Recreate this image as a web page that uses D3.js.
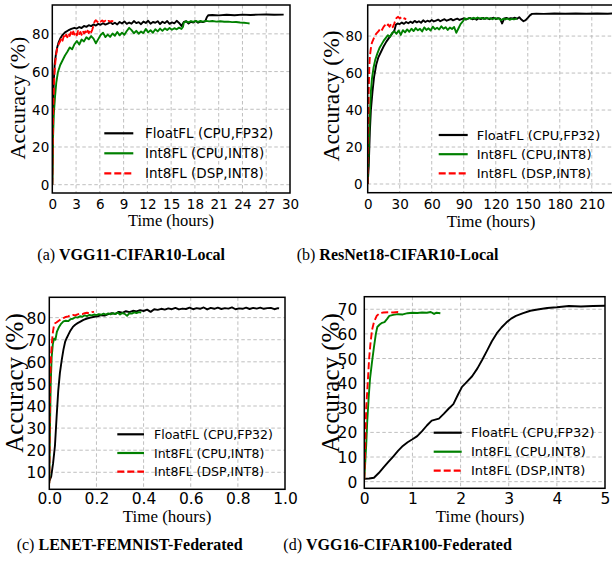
<!DOCTYPE html>
<html><head><meta charset="utf-8">
<script src="https://cdn.jsdelivr.net/npm/d3@7"></script>
<style>body{margin:0;background:#fff}</style>
</head><body>
<svg id="c" width="612" height="564" xmlns="http://www.w3.org/2000/svg"></svg>
<script>
// ---------------- DATA ----------------
const seriesNames = ["FloatFL (CPU,FP32)", "Int8FL (CPU,INT8)", "Int8FL (DSP,INT8)"];
const captionTags = ["(a)", "(b)", "(c)", "(d)"];
const captionNames = ["VGG11-CIFAR10-Local", "ResNet18-CIFAR10-Local", "LENET-FEMNIST-Federated", "VGG16-CIFAR100-Federated"];
const xLabel = "Time (hours)";
const yLabel = "Accuracy (%)";

// (a) VGG11-CIFAR10-Local  [hours, accuracy]
const aFloat = [[0,0],[0.05,20],[0.1,42],[0.2,56],[0.3,64],[0.45,69],[0.6,72.5],[0.8,75.5],[1.0,77.5],[1.3,79.5],[1.6,80.8],[2.0,81.8],[2.4,82.6],[2.8,83.2],[3.1,82.8],[3.4,83.6],[3.7,83.1],[4.0,84.2],[4.3,83.7],[4.6,84.6],[4.9,84.1],[5.2,85.0],[5.5,84.4],[5.8,85.3],[6.1,84.8],[6.4,85.6],[6.7,84.9],[7.0,85.4],[7.3,86.1],[7.6,85.2],[7.9,85.9],[8.2,85.0],[8.5,86.3],[8.8,85.5],[9.1,86.6],[9.4,85.3],[9.7,86.0],[10.0,85.4],[10.3,86.8],[10.6,85.7],[10.9,86.2],[11.2,85.1],[11.5,86.5],[11.8,85.8],[12.1,86.9],[12.4,85.4],[12.7,86.3],[13.0,85.9],[13.3,86.7],[13.6,85.2],[13.9,86.4],[14.2,85.7],[14.5,86.8],[14.8,85.3],[15.1,86.1],[15.4,85.6],[15.7,86.9],[16.0,85.8],[16.3,84.2],[16.6,86.3],[16.9,86.7],[17.2,85.5],[17.5,86.4],[17.8,86.0],[18.1,86.8],[18.4,85.9],[18.7,86.5],[19.0,86.2],[19.3,86.6],[19.5,88.8],[19.7,89.9],[20.2,90.0],[21,89.8],[22,90.1],[23,89.9],[24,90.2],[25,90.0],[26,90.2],[27,90.3],[28,90.1],[29.2,90.2]];
const aIntCPU = [[0,0],[0.05,12],[0.1,26],[0.2,38],[0.35,47],[0.5,54],[0.7,59.5],[1.0,63.5],[1.3,66],[1.6,68.5],[1.9,70.5],[2.2,72.8],[2.5,71.8],[2.8,74.5],[3.1,76.2],[3.4,74.3],[3.7,77.0],[4.0,76.0],[4.3,78.2],[4.6,77.1],[4.9,78.8],[5.2,77.5],[5.5,75.0],[5.8,77.2],[6.1,79.4],[6.4,80.6],[6.7,78.3],[7.0,79.6],[7.3,78.4],[7.6,80.2],[7.9,79.0],[8.2,81.0],[8.5,79.2],[8.8,80.6],[9.1,79.5],[9.4,81.5],[9.7,83.2],[10.0,82.0],[10.3,80.3],[10.6,81.6],[10.9,80.1],[11.2,81.2],[11.5,80.4],[11.8,82.6],[12.1,80.8],[12.4,81.9],[12.7,80.6],[13.0,82.4],[13.3,81.3],[13.6,82.8],[13.9,81.6],[14.2,82.9],[14.5,82.0],[14.8,83.1],[15.1,82.2],[15.4,83.0],[15.7,82.4],[16.0,83.3],[16.3,82.6],[16.5,83.8],[16.6,86.0],[16.9,86.6],[17.2,86.1],[17.5,86.8],[17.8,86.3],[18.1,86.9],[18.4,86.4],[18.7,86.8],[19.0,86.5],[19.4,86.9],[19.8,86.6],[20.2,86.8],[20.7,86.5],[21.2,86.7],[21.7,86.4],[22.2,86.5],[22.7,86.2],[23.2,86.3],[23.7,86.0],[24.2,85.9],[24.6,85.7],[24.9,85.5]];
const aIntDSP = [[0,0],[0.05,18],[0.1,36],[0.2,52],[0.3,61],[0.45,68],[0.6,72],[0.8,74.5],[1.0,76.2],[1.15,77.8],[1.3,76.4],[1.45,78.9],[1.6,77.6],[1.75,79.6],[1.9,78.2],[2.05,80.4],[2.2,78.9],[2.35,80.9],[2.5,79.3],[2.65,81.2],[2.8,79.6],[2.95,80.8],[3.1,79.2],[3.25,81.5],[3.4,79.9],[3.55,81.0],[3.7,79.5],[3.85,81.6],[4.0,80.2],[4.15,81.3],[4.3,79.8],[4.45,81.7],[4.6,80.4],[4.75,82.0],[4.9,80.8],[5.05,82.3],[5.2,84.5],[5.35,86.6],[5.5,87.2],[5.7,86.3],[5.9,87.3],[6.1,86.5],[6.3,87.1],[6.5,86.4],[6.7,87.0],[6.9,86.3],[7.1,86.9],[7.3,86.5],[7.5,86.8],[7.7,86.6]];

// (b) ResNet18-CIFAR10-Local
const bFloat = [[0,0],[1,10],[2,28],[3,40],[4.5,50],[6,58],[8,64.5],[10,68.5],[12.5,71.5],[15,74.5],[17.5,77],[20,79],[22.5,81],[25,83],[26.5,86.2],[28,86.8],[30,86.5],[32,87.3],[34,86.6],[36,87.6],[38,86.9],[40,87.8],[42,87.1],[44,88.2],[46,87.4],[48,88.0],[50,87.2],[52,88.5],[54,87.6],[56,88.3],[58,87.8],[60,88.7],[62,87.9],[64,88.4],[66,88.9],[68,88.0],[70,88.6],[72,89.1],[74,88.3],[76,88.8],[78,89.3],[80,88.5],[82,89.0],[84,89.4],[86,88.7],[88,89.2],[90,89.6],[92,88.9],[94,89.4],[96,89.8],[98,89.1],[100,89.5],[102,88.8],[104,89.6],[106,89.2],[108,89.8],[110,89.3],[112,89.7],[114,89.1],[116,89.6],[118,89.9],[120,89.2],[122,89.7],[124,89.4],[126,86.8],[128,89.5],[130,89.8],[132,89.3],[134,89.7],[136,89.5],[138,89.9],[140,89.4],[142,90.2],[144,88.9],[146,88.0],[148,88.6],[150,89.8],[152,91.2],[154,92.0],[158,92.1],[165,92.0],[175,92.2],[185,92.1],[195,92.2],[205,92.1],[215,92.2],[225,92.1],[231,92.2]];
const bIntCPU = [[0,0],[1,20],[2,38],[3,50],[4,57],[5.5,63],[7,67],[9,70.5],[11,73.5],[13,75.5],[15,77.5],[17,79],[19,80.5],[21,79.6],[23,81.8],[25,82.5],[27,81.2],[29,83.0],[31,80.6],[33,83.2],[35,82.0],[37,83.6],[39,82.3],[41,84.0],[43,82.7],[45,84.3],[47,83.1],[49,83.9],[51,82.5],[53,84.7],[55,83.3],[57,84.2],[59,83.0],[61,85.1],[63,83.7],[65,84.5],[67,83.6],[69,85.3],[71,84.0],[73,84.8],[75,83.3],[77,84.6],[79,83.8],[81,84.9],[83,81.8],[85,84.1],[87,86.5],[89,87.8],[91,89.6],[93,89.1],[95,89.8],[97,89.3],[99,89.9],[101,89.4],[103,90.0],[105,89.5],[107,89.8],[109,89.2],[111,89.9],[113,89.4],[115,89.7],[117,89.1],[119,89.8],[121,89.3],[123,89.6],[125,88.5],[127,89.4],[129,89.0],[131,89.5],[133,88.8],[135,89.3],[137,89.0],[140,89.4]];
const bIntDSP = [[0,0],[0.5,30],[1,52],[1.5,63],[2,69],[3,73.5],[4,76.5],[5.5,78.5],[7,80.5],[8.5,81.6],[10,82.5],[11.5,83.8],[13,82.9],[14.5,84.6],[16,85.8],[17.5,84.9],[19,86.3],[20.5,85.1],[22,86.6],[23.5,84.8],[25,86.9],[26,88.6],[27,89.8],[28.5,90.4],[30,89.6],[31.5,90.1],[33,89.2],[34.5,89.6],[36,89.0]];

// (c) LENET-FEMNIST-Federated
const cFloat = [[0,6],[0.008,8],[0.016,14],[0.024,22],[0.031,35],[0.038,47],[0.045,55],[0.053,61],[0.06,65.5],[0.067,69],[0.074,70.8],[0.082,72.5],[0.09,74.2],[0.1,75.8],[0.11,76.8],[0.12,77.5],[0.13,78.1],[0.145,79.0],[0.16,79.6],[0.175,80.0],[0.19,80.4],[0.205,80.6],[0.22,81.1],[0.235,80.9],[0.25,81.6],[0.265,82.0],[0.28,81.7],[0.295,82.6],[0.31,82.2],[0.325,82.9],[0.34,82.5],[0.355,83.1],[0.37,82.8],[0.385,83.4],[0.4,83.0],[0.415,83.6],[0.43,82.6],[0.445,83.8],[0.46,83.5],[0.475,84.0],[0.49,83.6],[0.505,84.2],[0.52,83.8],[0.535,84.4],[0.55,83.7],[0.565,84.1],[0.58,83.9],[0.595,84.5],[0.61,83.8],[0.625,84.3],[0.64,84.0],[0.655,84.6],[0.67,83.7],[0.685,84.4],[0.7,84.0],[0.715,84.5],[0.73,83.9],[0.745,84.3],[0.76,84.1],[0.775,84.6],[0.79,83.8],[0.805,84.2],[0.82,84.0],[0.835,84.5],[0.85,83.9],[0.865,84.4],[0.88,84.1],[0.895,84.5],[0.91,84.0],[0.925,84.3],[0.94,84.4],[0.955,83.8],[0.97,84.3],[0.975,84.2]];
const cIntCPU = [[0,5],[0.003,30],[0.006,50],[0.01,62],[0.015,68],[0.02,70.5],[0.026,70.0],[0.032,73.5],[0.04,75.5],[0.05,77.2],[0.06,78.3],[0.07,78.6],[0.08,78.4],[0.09,79.3],[0.1,79.5],[0.11,80.2],[0.12,80.0],[0.13,80.6],[0.14,80.4],[0.15,81.0],[0.16,80.7],[0.17,81.2],[0.18,81.0],[0.19,81.4],[0.2,81.1],[0.21,81.6],[0.22,81.3],[0.23,81.8],[0.24,81.4],[0.25,81.9],[0.26,81.5],[0.27,82.0],[0.28,81.6],[0.29,82.3],[0.3,81.4],[0.31,82.1],[0.32,81.7],[0.33,80.8],[0.34,82.0],[0.35,81.8],[0.36,82.4],[0.37,82.1],[0.38,82.5],[0.39,82.3]];
const cIntDSP = [[0,5],[0.002,35],[0.005,55],[0.008,64],[0.012,70],[0.016,74],[0.02,76.5],[0.025,77.5],[0.03,77.8],[0.04,78.6],[0.05,79.3],[0.06,79.8],[0.07,80.3],[0.08,80.6],[0.09,81.0],[0.1,81.2],[0.11,81.0],[0.12,81.5],[0.13,81.8],[0.14,81.6],[0.15,82.0],[0.16,82.2],[0.17,82.0],[0.18,82.5],[0.19,82.6]];

// (d) VGG16-CIFAR100-Federated
const dFloat = [[0,1.2],[0.1,1.3],[0.2,1.6],[0.3,3.5],[0.4,5.8],[0.5,8.0],[0.6,10.2],[0.7,12.5],[0.8,14.5],[0.9,16.0],[1.0,17.2],[1.1,18.5],[1.2,20.5],[1.3,22.8],[1.4,24.8],[1.55,25.6],[1.65,27.5],[1.75,29.6],[1.85,31.5],[1.95,35.5],[2.03,38.5],[2.12,40.3],[2.24,42.8],[2.35,46.0],[2.45,49.5],[2.55,53.2],[2.65,57.0],[2.75,60.2],[2.85,62.6],[2.95,64.6],[3.05,66.2],[3.15,67.3],[3.3,68.4],[3.45,69.4],[3.6,69.9],[3.8,70.5],[4.0,70.8],[4.25,71.3],[4.5,71.1],[4.75,71.3],[5.0,71.4]];
const dIntCPU = [[0,1],[0.02,8],[0.04,15],[0.06,24],[0.09,34],[0.12,42],[0.16,48.5],[0.2,54.5],[0.24,60],[0.27,62.8],[0.32,63.8],[0.37,64.5],[0.42,64.8],[0.47,66.0],[0.52,67.3],[0.6,67.7],[0.7,68.0],[0.8,67.9],[0.9,68.4],[1.0,68.6],[1.1,68.5],[1.2,68.7],[1.3,68.6],[1.38,68.9],[1.45,68.1],[1.5,68.6],[1.58,68.4]];
const dIntDSP = [[0,1],[0.02,15],[0.04,30],[0.077,42],[0.1,50],[0.125,55.5],[0.16,61.5],[0.2,64.8],[0.26,67.4],[0.32,68.4],[0.4,68.7],[0.5,68.8],[0.6,68.7],[0.7,68.9],[0.75,68.8]];

// ticks
const aXTicks = [0,3,6,9,12,15,18,21,24,27,30];
const aYTicks = [0,20,40,60,80];
const bXTicks = [0,30,60,90,120,150,180,210];
const bYTicks = [0,20,40,60,80];
const cXTicks = [0,0.2,0.4,0.6,0.8,1.0];
const cYTicks = [10,20,30,40,50,60,70,80];
const dXTicks = [0,1,2,3,4,5];
const dYTicks = [0,10,20,30,40,50,60,70];

// ---------------- LAYOUT / STYLE ----------------
const colors = ["#000000", "#008000", "#ff0000"];
const dashes = [null, null, "7,3"];

const panels = [
  {series:[aFloat,aIntCPU,aIntDSP], xd:[0,30], yd:[-4.4,95.3], xt:aXTicks, yt:aYTicks, xf:d3.format("d"),
   L:52.3, R:290, T:5, B:193, tick:13.5, xtb:208.5, ypad:3,
   yl:{x:25, y:98, s:22}, xl:{x:171, y:226, s:16.5},
   lg:{x0:104.3, x1:133.3, tx:145, y:133.3, dy:20, s:13.5},
   cap:{x:37.3, y:260}},
  {series:[bFloat,bIntCPU,bIntDSP], xd:[0,231], yd:[-4.7,96.8], xt:bXTicks, yt:bYTicks, xf:d3.format("d"),
   L:367.7, R:614.2, T:5, B:192.7, tick:13.5, xtb:208.5, ypad:5,
   yl:{x:339.3, y:96, s:23.5}, xl:{x:491, y:226.5, s:17},
   lg:{x0:438.7, x1:467.7, tx:476.7, y:135, dy:19.2, s:13},
   cap:{x:296.7, y:260}},
  {series:[cFloat,cIntCPU,cIntDSP], xd:[0,1], yd:[2.3,89.2], xt:cXTicks, yt:cYTicks, xf:d3.format(".1f"),
   L:49.3, R:285, T:297.3, B:489.3, tick:15.5, xtb:504, ypad:3,
   yl:{x:22.7, y:383, s:25}, xl:{x:167, y:522, s:17},
   lg:{x0:117.3, x1:144, tx:154, y:434.3, dy:18.7, s:12.5},
   cap:{x:16.7, y:550}},
  {series:[dFloat,dIntCPU,dIntDSP], xd:[0,5], yd:[-2.7,75.1], xt:dXTicks, yt:dYTicks, xf:d3.format("d"),
   L:364.3, R:605, T:296.7, B:488.3, tick:15.5, xtb:503.5, ypad:7,
   yl:{x:338.7, y:383, s:25}, xl:{x:480, y:522, s:17},
   lg:{x0:433.7, x1:461.7, tx:471, y:432.7, dy:19, s:13},
   cap:{x:283.3, y:550}}
];

const svg = d3.select("#c");
svg.append("rect").attr("width",612).attr("height",564).attr("fill","#fff");
const sansFont = "DejaVu Sans, Verdana, sans-serif";
const serifFont = "Liberation Serif, Times New Roman, serif";

panels.forEach((p, i) => {
  const x = d3.scaleLinear().domain(p.xd).range([p.L, p.R]);
  const y = d3.scaleLinear().domain(p.yd).range([p.B, p.T]);
  const g = svg.append("g");
  const clipId = "clip" + i;
  g.append("clipPath").attr("id", clipId).append("rect")
    .attr("x", p.L).attr("y", p.T).attr("width", p.R - p.L).attr("height", p.B - p.T);

  // grid
  const grid = g.append("g").attr("stroke", "#b8b8b8").attr("stroke-width", 0.9).attr("stroke-dasharray", "3.5,2.5");
  p.xt.forEach(t => {
    if (x(t) <= p.L + 0.5 || x(t) >= p.R - 0.5) return;
    grid.append("line").attr("x1", x(t)).attr("x2", x(t)).attr("y1", p.T).attr("y2", p.B);
  });
  p.yt.forEach(t => {
    grid.append("line").attr("x1", p.L).attr("x2", p.R).attr("y1", y(t)).attr("y2", y(t));
  });

  // lines
  const line = d3.line().x(d => x(d[0])).y(d => y(d[1]));
  const lg = g.append("g").attr("clip-path", `url(#${clipId})`);
  [0, 1, 2].forEach(k => {
    lg.append("path").datum(p.series[k]).attr("d", line)
      .attr("fill", "none").attr("stroke", colors[k]).attr("stroke-width", 1.9)
      .attr("stroke-linejoin", "round")
      .attr("stroke-dasharray", dashes[k]);
  });

  // frame
  g.append("rect").attr("x", p.L).attr("y", p.T).attr("width", p.R - p.L).attr("height", p.B - p.T)
    .attr("fill", "none").attr("stroke", "#000").attr("stroke-width", 1.5);

  // x axis tick labels
  const xa = d3.axisBottom(x).tickValues(p.xt).tickFormat(p.xf).tickSize(0).tickPadding(0);
  const xg = g.append("g").attr("transform", `translate(0,${p.xtb})`).call(xa);
  xg.select(".domain").remove();
  xg.selectAll("text").attr("dy", 0).attr("y", 0).attr("fill", "#000")
    .style("font-family", sansFont).style("font-size", p.tick + "px");

  const ya = d3.axisLeft(y).tickValues(p.yt).tickFormat(d3.format("d")).tickSize(0).tickPadding(0);
  const yg = g.append("g").attr("transform", `translate(${p.L - p.ypad},0)`).call(ya);
  yg.select(".domain").remove();
  yg.selectAll("text").attr("dy", "0.36em").attr("x", 0).attr("fill", "#000")
    .style("font-family", sansFont).style("font-size", p.tick + "px");

  // axis labels
  g.append("text").attr("transform", `translate(${p.yl.x},${p.yl.y}) rotate(-90)`)
    .attr("text-anchor", "middle").style("font-family", serifFont).style("font-size", p.yl.s + "px")
    .text(yLabel);
  g.append("text").attr("x", p.xl.x).attr("y", p.xl.y).attr("text-anchor", "middle")
    .style("font-family", serifFont).style("font-size", p.xl.s + "px").text(xLabel);

  // legend
  [0, 1, 2].forEach(k => {
    const ly = p.lg.y + k * p.lg.dy;
    g.append("line").attr("x1", p.lg.x0).attr("x2", p.lg.x1).attr("y1", ly).attr("y2", ly)
      .attr("stroke", colors[k]).attr("stroke-width", 2.2).attr("stroke-dasharray", dashes[k]);
    g.append("text").attr("x", p.lg.tx).attr("y", ly).attr("dy", "0.36em")
      .style("font-family", sansFont).style("font-size", p.lg.s + "px").text(seriesNames[k]);
  });

  // caption
  const cap = svg.append("text").attr("x", p.cap.x).attr("y", p.cap.y)
    .style("font-family", serifFont).style("font-size", "16px");
  cap.append("tspan").text(captionTags[i] + " ");
  cap.append("tspan").attr("font-weight", "bold").text(captionNames[i]);
});
</script>
</body></html>
